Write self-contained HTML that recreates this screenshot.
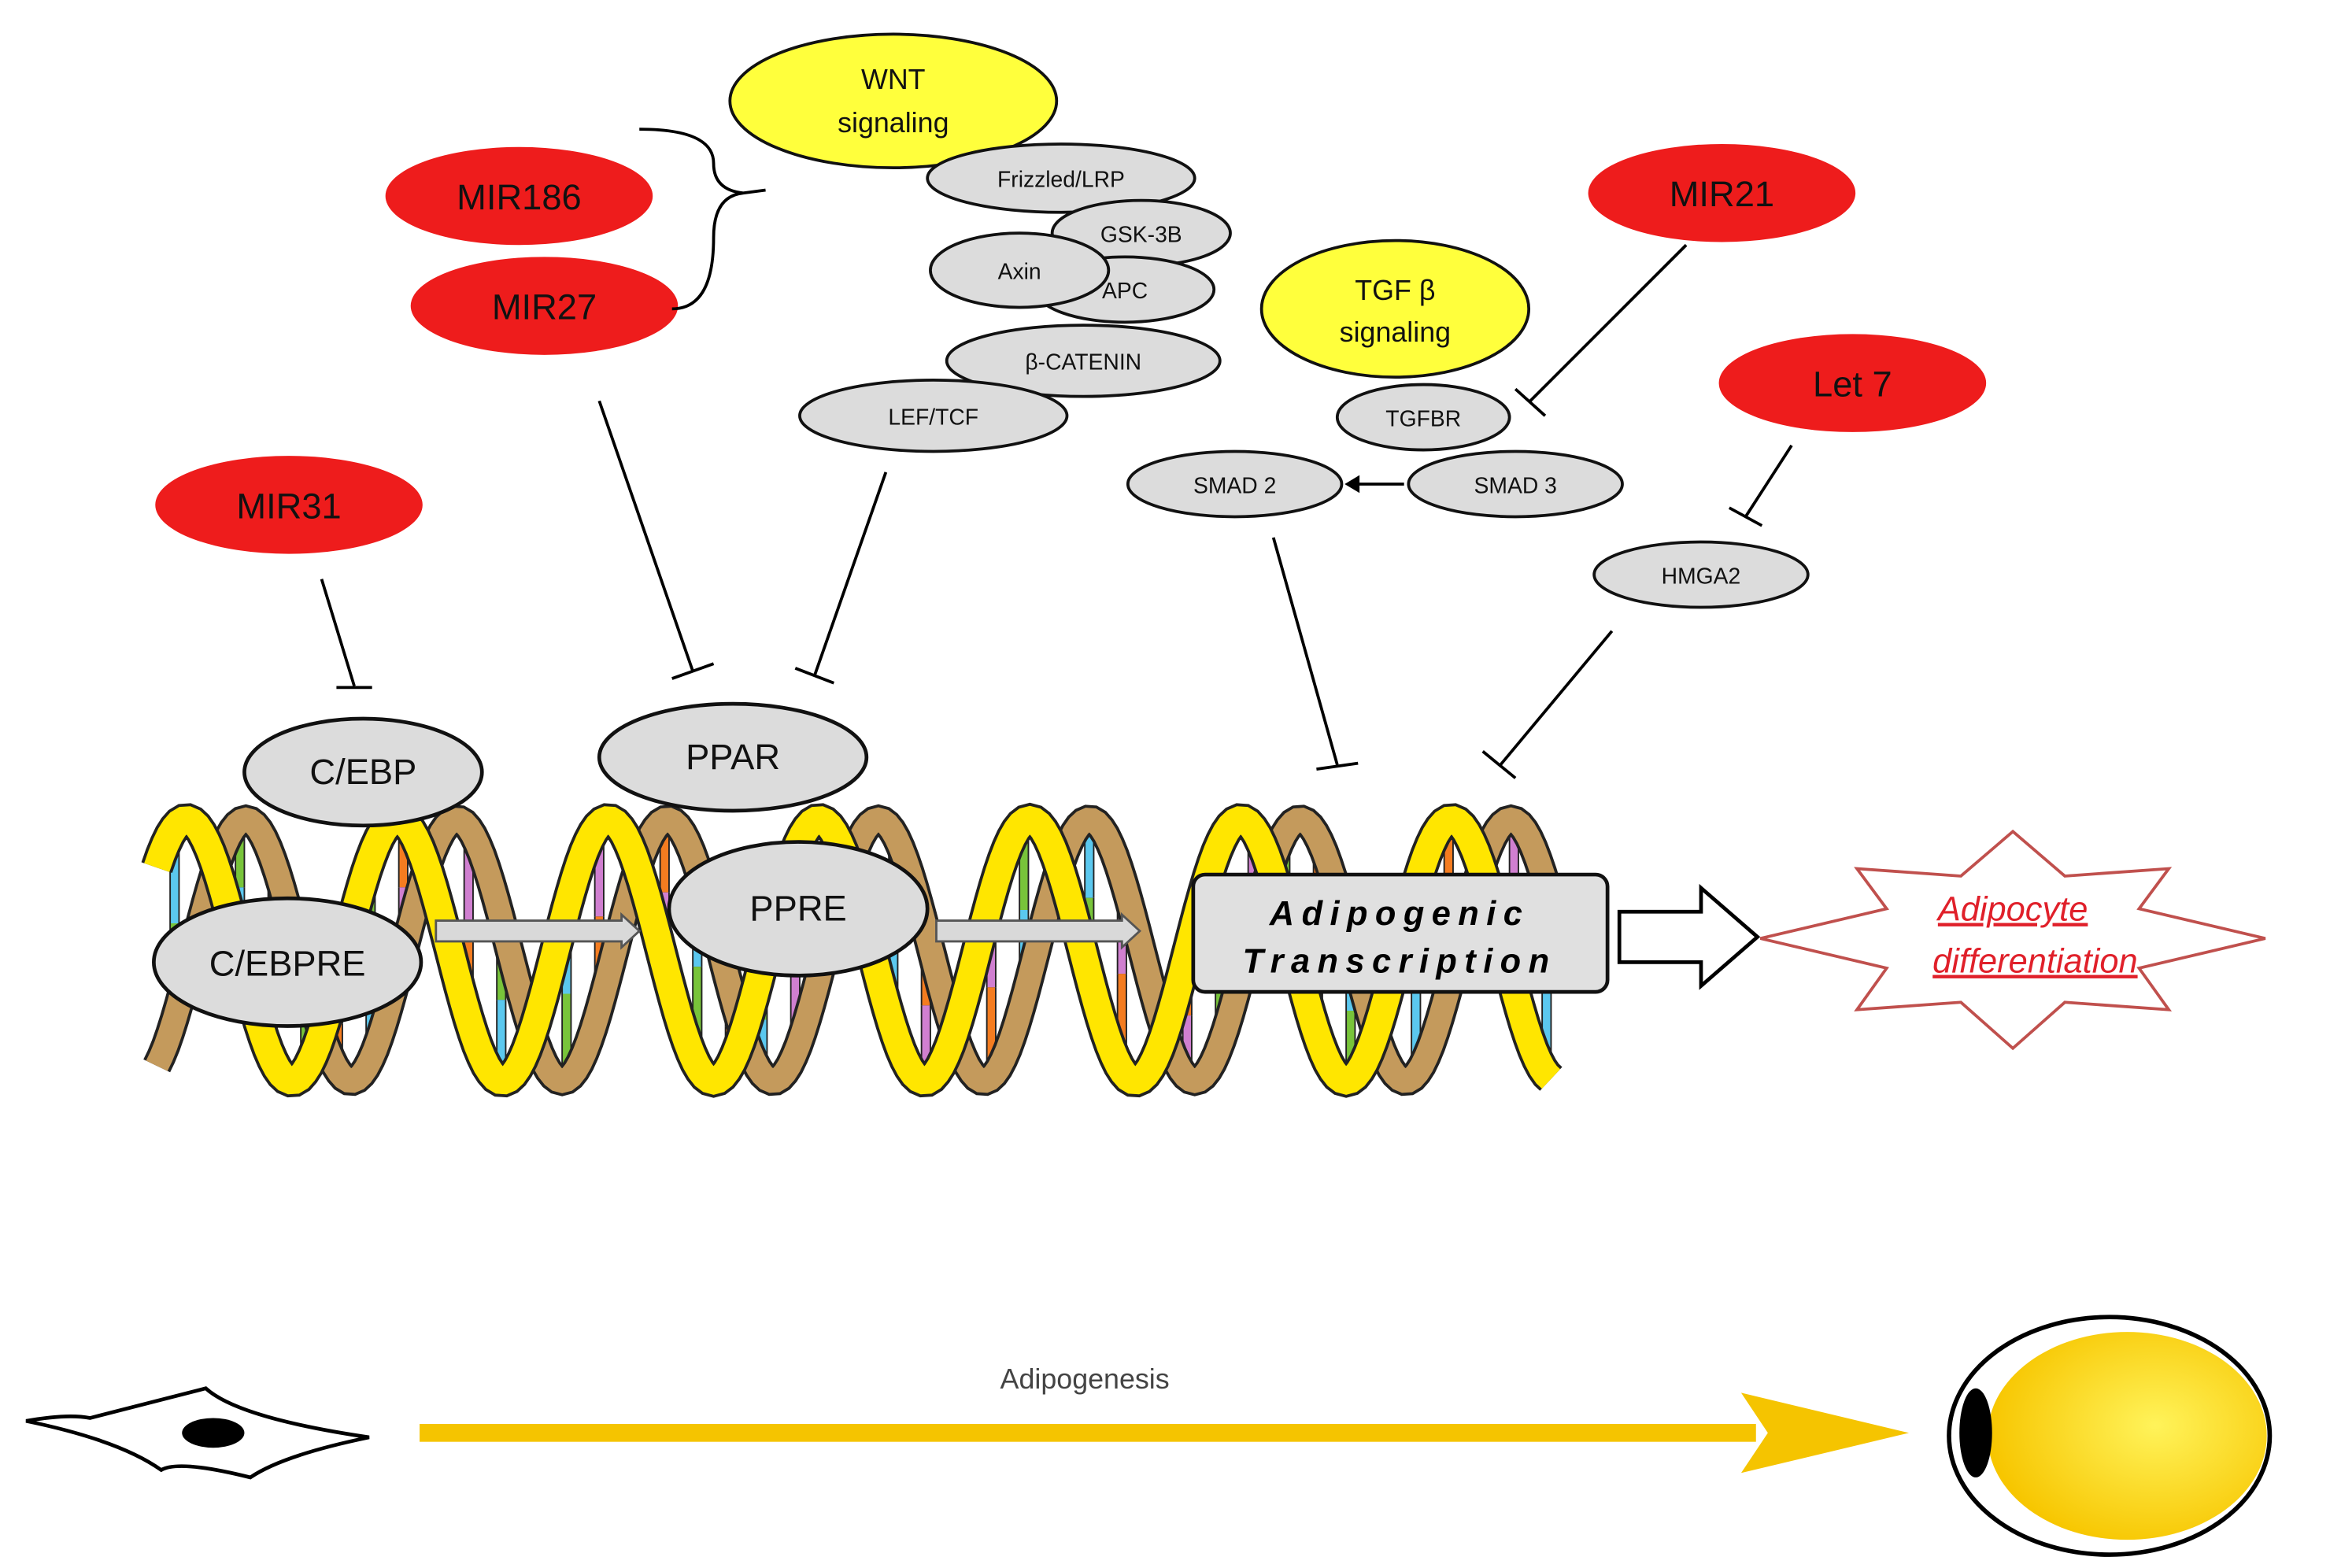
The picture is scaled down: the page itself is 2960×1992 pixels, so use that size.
<!DOCTYPE html>
<html><head><meta charset="utf-8"><style>
html,body{margin:0;padding:0;background:#fff}
svg{display:block}
text{font-family:"Liberation Sans",sans-serif}
</style></head><body>
<svg id="s" width="2960" height="1992" viewBox="0 0 1568 1056" xmlns="http://www.w3.org/2000/svg">
<defs>
<radialGradient id="fat" cx="0.6" cy="0.45" r="0.6"><stop offset="0" stop-color="#fff35a"/><stop offset="1" stop-color="#f7c600"/></radialGradient>
</defs>
<g id="dna"></g>
<g stroke="#000" stroke-width="2" fill="#ddd">
<!-- gray arrows -->
<path d="M293 620 H418 V616 L430 627 L418 638 V634 H293 Z" fill="#d9d9d9" stroke="#555" stroke-width="1.5"/>
<path d="M630 620 H755 V616 L767 627 L755 638 V634 H630 Z" fill="#d9d9d9" stroke="#555" stroke-width="1.5"/>
</g>
<g stroke="#111" stroke-width="2.5" fill="#dcdcdc">
<ellipse cx="244" cy="520" rx="80" ry="36"/>
<ellipse cx="493" cy="510" rx="90" ry="36"/>
<ellipse cx="193" cy="648" rx="90" ry="43"/>
<ellipse cx="537" cy="612" rx="87" ry="45"/>
<rect x="803" y="589" width="279" height="79" rx="8" fill="#e0e0e0"/>
</g>
<g font-size="24" text-anchor="middle" fill="#111">
<text x="244" y="528">C/EBP</text>
<text x="493" y="518">PPAR</text>
<text x="193" y="657">C/EBPRE</text>
<text x="537" y="620">PPRE</text>
</g>
<text x="942" y="623" font-size="23" font-weight="bold" font-style="italic" text-anchor="middle" letter-spacing="5">Adipogenic</text>
<text x="942" y="655" font-size="23" font-weight="bold" font-style="italic" text-anchor="middle" letter-spacing="5">Transcription</text>
<!-- hollow arrow -->
<path d="M1090 614 H1145 V598 L1183 631 L1145 664 V648 H1090 Z" fill="#fff" stroke="#000" stroke-width="2.5"/>
<!-- star -->
<polygon points="1355,560 1390,590 1460,585 1440,612 1525,632 1440,652 1460,680 1390,675 1355,706 1320,675 1250,680 1270,652 1185,632 1270,612 1250,585 1320,590" fill="#fff" stroke="#c0504d" stroke-width="2"/>
<text x="1355" y="620" font-size="23" font-style="italic" fill="#e0202a" text-anchor="middle" text-decoration="underline">Adipocyte</text>
<text x="1370" y="655" font-size="23" font-style="italic" fill="#e0202a" text-anchor="middle" text-decoration="underline">differentiation</text>

<!-- top nodes -->
<g stroke="#111" stroke-width="2">
<ellipse cx="601" cy="68" rx="110" ry="45" fill="#ffff3c"/>
<ellipse cx="939" cy="208" rx="90" ry="46" fill="#ffff3c"/>
<ellipse cx="714" cy="120" rx="90" ry="23" fill="#dcdcdc"/>
<ellipse cx="768" cy="157" rx="60" ry="22" fill="#dcdcdc"/>
<ellipse cx="757" cy="195" rx="60" ry="22" fill="#dcdcdc"/>
<ellipse cx="686" cy="182" rx="60" ry="25" fill="#dcdcdc"/>
<ellipse cx="729" cy="243" rx="92" ry="24" fill="#dcdcdc"/>
<ellipse cx="628" cy="280" rx="90" ry="24" fill="#dcdcdc"/>
<ellipse cx="958" cy="281" rx="58" ry="22" fill="#dcdcdc"/>
<ellipse cx="1020" cy="326" rx="72" ry="22" fill="#dcdcdc"/>
<ellipse cx="831" cy="326" rx="72" ry="22" fill="#dcdcdc"/>
<ellipse cx="1145" cy="387" rx="72" ry="22" fill="#dcdcdc"/>
</g>
<g fill="#ee1c1c">
<ellipse cx="349" cy="132" rx="90" ry="33"/>
<ellipse cx="366" cy="206" rx="90" ry="33"/>
<ellipse cx="1159" cy="130" rx="90" ry="33"/>
<ellipse cx="1247" cy="258" rx="90" ry="33"/>
<ellipse cx="194" cy="340" rx="90" ry="33"/>
</g>
<g font-size="24" text-anchor="middle" fill="#111">
<text x="349" y="141">MIR186</text>
<text x="366" y="215">MIR27</text>
<text x="1159" y="139">MIR21</text>
<text x="1247" y="267">Let 7</text>
<text x="194" y="349">MIR31</text>
</g>
<g font-size="19" text-anchor="middle" fill="#111">
<text x="601" y="60">WNT</text><text x="601" y="89">signaling</text>
<text x="939" y="202">TGF β</text><text x="939" y="230">signaling</text>
</g>
<g font-size="15" text-anchor="middle" fill="#111">
<text x="714" y="126">Frizzled/LRP</text>
<text x="768" y="163">GSK-3B</text>
<text x="757" y="201">APC</text>
<text x="686" y="188">Axin</text>
<text x="729" y="249">β-CATENIN</text>
<text x="628" y="286">LEF/TCF</text>
<text x="958" y="287">TGFBR</text>
<text x="1020" y="332">SMAD 3</text>
<text x="831" y="332">SMAD 2</text>
<text x="1145" y="393">HMGA2</text>
</g>
<!-- bracket -->
<path d="M430 87 Q480 87 480 110 Q480 128 500 130 L515 128 M500 130 Q480 132 480 160 Q480 208 452 208" fill="none" stroke="#000" stroke-width="2"/>
<!-- inhibitors -->
<g stroke="#000" stroke-width="2" fill="none">
<path d="M216 390 L238 462 M226 463 L250 463"/>
<path d="M403 270 L466 452 M452 457 L480 447"/>
<path d="M596 318 L548 455 M535 450 L561 460"/>
<path d="M1135 165 L1030 270 M1020 262 L1040 280"/>
<path d="M1206 300 L1175 348 M1164 342 L1186 354"/>
<path d="M857 362 L900 515 M886 518 L914 514"/>
<path d="M1085 425 L1010 515 M998 506 L1020 524"/>
<path d="M945 326 L912 326"/>
</g>
<path d="M905 326 L915 320 L915 332 Z" fill="#000"/>
<!-- bottom -->
<path d="M17 957 Q45 952 60 955 L138 935 Q160 955 248 968 Q190 980 168 995 Q120 983 108 990 Q80 970 17 957 Z" fill="#fff" stroke="#000" stroke-width="2.5"/>
<ellipse cx="143" cy="965" rx="21" ry="10" fill="#000"/>
<text x="730" y="935" font-size="19" fill="#444" text-anchor="middle">Adipogenesis</text>
<rect x="282" y="959" width="900" height="12" fill="#f5c400"/>
<path d="M1172 938 L1285 965 L1172 992 L1190 965 Z" fill="#f5c400"/>
<ellipse cx="1420" cy="967" rx="108" ry="80" fill="#fff" stroke="#000" stroke-width="3"/>
<ellipse cx="1432" cy="967" rx="94" ry="70" fill="url(#fat)"/>
<ellipse cx="1330" cy="965" rx="11" ry="30" fill="#000"/>
</svg>
<script>
(function(){
var g=document.getElementById('dna'),ns='http://www.w3.org/2000/svg';
var x0=105,x1=1045,cy=640,A=88,P=142;
function path(ph){var d='';for(var x=x0;x<=x1;x+=3){var y=cy-A*Math.cos(2*Math.PI*(x-ph)/P);d+=(x==x0?'M':'L')+x+' '+y.toFixed(1);}return d;}
function add(tag,at){var e=document.createElementNS(ns,tag);for(var k in at)e.setAttribute(k,at[k]);g.appendChild(e);return e;}
var cols=['#5bc8ef','#d07fd0','#78c43a','#f47c20'];
// base pairs
var i=0;for(var x=x0+12;x<x1;x+=22){var ya=cy-A*Math.cos(2*Math.PI*(x-125)/P),yb=cy-A*Math.cos(2*Math.PI*(x-165)/P);
var t=Math.min(ya,yb),b=Math.max(ya,yb);var m=(t+b)/2;
add('line',{x1:x,y1:t,x2:x,y2:m,stroke:'#222','stroke-width':7});add('line',{x1:x,y1:t,x2:x,y2:m,stroke:cols[i%4],'stroke-width':5});
add('line',{x1:x,y1:m,x2:x,y2:b,stroke:'#222','stroke-width':7});add('line',{x1:x,y1:m,x2:x,y2:b,stroke:cols[(i+2)%4],'stroke-width':5});i++;}
var pb=path(165),py=path(125);
add('path',{d:pb,stroke:'#222','stroke-width':20,fill:'none'});
add('path',{d:pb,stroke:'#c49a5c','stroke-width':16,fill:'none'});
add('path',{d:py,stroke:'#222','stroke-width':22,fill:'none'});
add('path',{d:py,stroke:'#ffe600','stroke-width':18,fill:'none'});
})();
</script>
</body></html>
